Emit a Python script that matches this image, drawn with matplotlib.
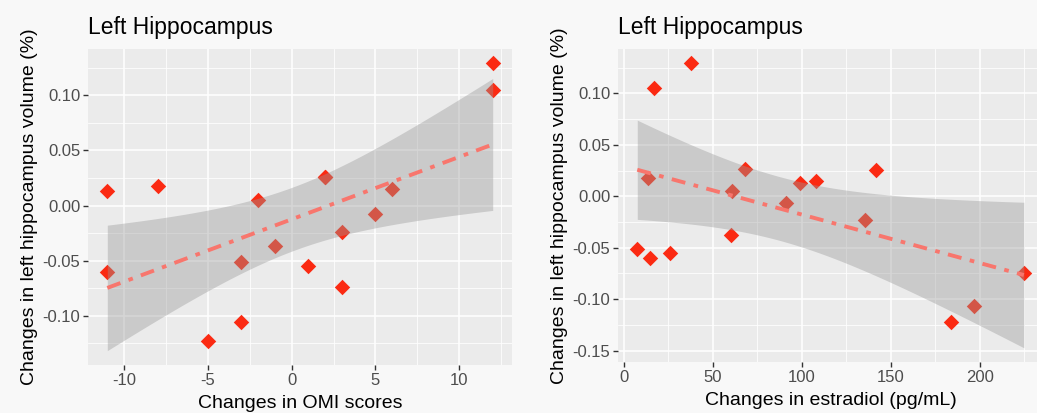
import numpy as np
import matplotlib.pyplot as plt
from matplotlib.ticker import MultipleLocator, FormatStrFormatter

# left panel: OMI scores vs hippocampus volume change
omi = [12, 12, -11, -8, -11, 2, 2, -2, 6, 5, 3, -1, -3, 1, 3, -3, -5]
omi_vol = [0.129, 0.105, 0.013, 0.0175, -0.060, 0.026, 0.0255, 0.005, 0.0155,
           -0.0075, -0.024, -0.037, -0.051, -0.055, -0.0735, -0.106, -0.1225]

# right panel: estradiol vs hippocampus volume change
estradiol = [37.6, 17.1, 13.7, 7.7, 14.7, 25.9, 60.5, 60.9, 68.4, 91.5, 99.1,
             108.3, 135.5, 141.9, 183.8, 196.6, 224.8]
estr_vol = [0.1294, 0.1052, 0.0174, -0.051, -0.0603, -0.0555, -0.0374, 0.0055,
            0.0265, -0.0068, 0.0126, 0.0152, -0.0235, 0.0255, -0.1226, -0.1065,
            -0.0742]

# 97.5% t quantiles by degrees of freedom
t975 = {14: 2.1448, 15: 2.1314, 16: 2.1199}

plt.rcParams['font.family'] = ['Liberation Sans', 'DejaVu Sans']
plt.rcParams['axes.unicode_minus'] = False

fig = plt.figure(figsize=(10.37, 4.13), dpi=100)
fig.patch.set_facecolor('#f8f8f8')


def panel(rect, x, y, xlabel, xmajor, ymajor):
    x = np.array(x, dtype=float)
    y = np.array(y, dtype=float)
    ax = fig.add_axes(rect)
    ax.set_facecolor('#ebebeb')

    # linear fit + 95% confidence band, like geom_smooth(method='lm')
    n = len(x)
    b, a = np.polyfit(x, y, 1)
    xs = np.linspace(x.min(), x.max(), 80)
    resid = y - (a + b * x)
    s = np.sqrt(np.sum(resid ** 2) / (n - 2))
    se = s * np.sqrt(1 / n + (xs - x.mean()) ** 2 / np.sum((x - x.mean()) ** 2))
    fit = a + b * xs
    lo = fit - t975[n - 2] * se
    hi = fit + t975[n - 2] * se

    ax.scatter(x, y, marker='D', s=62, color='#fb2a12', linewidths=0, zorder=3)
    ax.fill_between(xs, lo, hi, color='#999999', alpha=0.4, linewidth=0, zorder=4)
    ax.plot(xs, fit, color='#f8766d', lw=2.8, linestyle=(0, (3.6, 2.2, 1.2, 2.2)),
            zorder=5)

    xr = x.max() - x.min()
    ax.set_xlim(x.min() - 0.05 * xr, x.max() + 0.05 * xr)
    ymin = min(y.min(), lo.min())
    ymax = max(y.max(), hi.max())
    yr = ymax - ymin
    ax.set_ylim(ymin - 0.05 * yr, ymax + 0.05 * yr)

    ax.xaxis.set_major_locator(MultipleLocator(xmajor))
    ax.xaxis.set_minor_locator(MultipleLocator(xmajor / 2))
    ax.yaxis.set_major_locator(MultipleLocator(ymajor))
    ax.yaxis.set_minor_locator(MultipleLocator(ymajor / 2))
    ax.yaxis.set_major_formatter(FormatStrFormatter('%.2f'))
    ax.grid(which='major', color='white', lw=1.1)
    ax.grid(which='minor', color='white', lw=0.55)
    ax.set_axisbelow(True)
    for sp in ax.spines.values():
        sp.set_visible(False)
    ax.tick_params(which='major', length=3.5, width=1, color='#333333',
                   labelcolor='#4d4d4d', labelsize=12, pad=2)
    ax.tick_params(which='minor', length=0)
    ax.set_xlabel(xlabel, fontsize=14, color='black', labelpad=5)
    ax.set_ylabel('Changes in left hippocampus volume (%)', fontsize=14,
                  color='black', labelpad=3)
    ax.set_title('Left Hippocampus', fontsize=16.5, loc='left', pad=11)
    return ax


panel([0.0849, 0.1162, 0.4088, 0.765], omi, omi_vol,
      'Changes in OMI scores', 5, 0.05)
panel([0.5959, 0.1235, 0.4100, 0.758], estradiol, estr_vol,
      'Changes in estradiol (pg/mL)', 50, 0.05)

plt.savefig('out.png', dpi=100, facecolor=fig.get_facecolor())
plt.close(fig)
